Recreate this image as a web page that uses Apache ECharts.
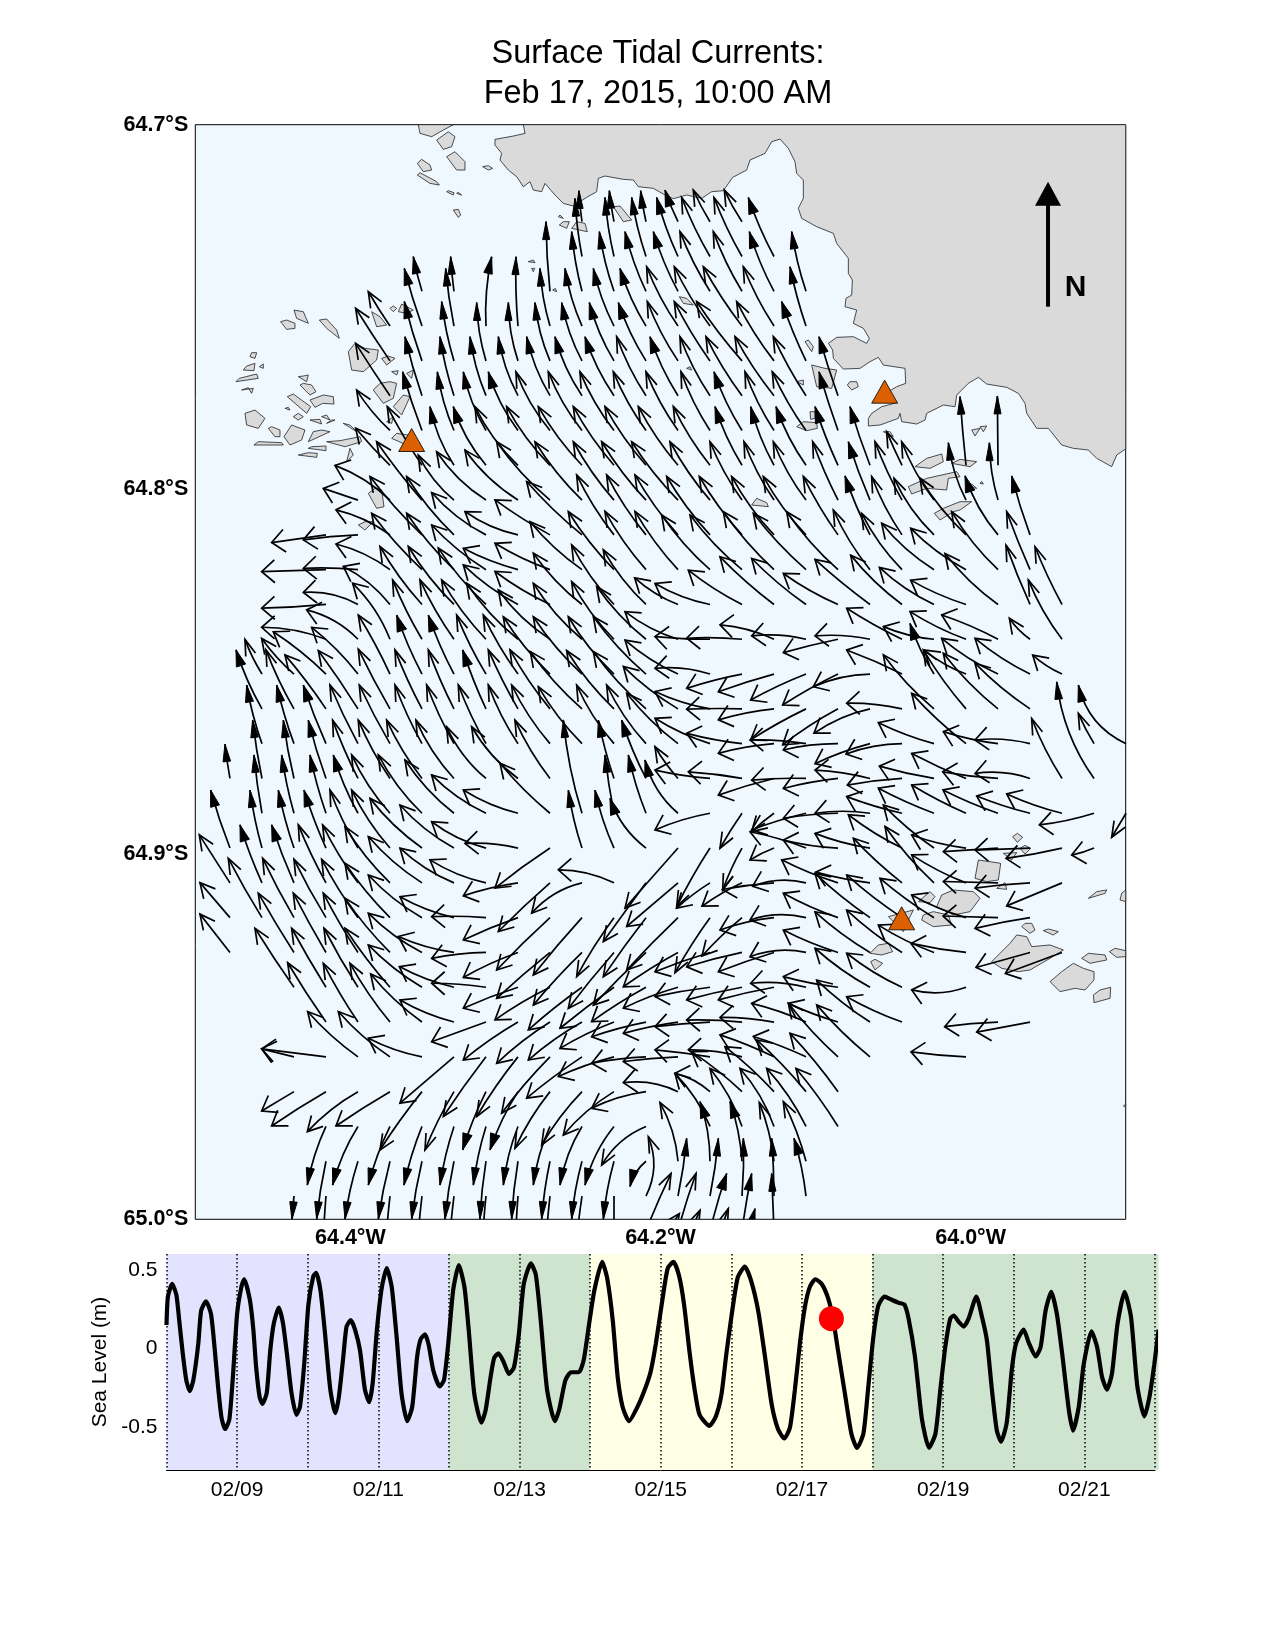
<!DOCTYPE html>
<html><head><meta charset="utf-8"><style>html,body{margin:0;padding:0;background:#fff}#c{width:1276px;height:1652px}</style>
<script src="https://cdn.jsdelivr.net/npm/echarts@6/dist/echarts.min.js"></script></head><body><div id="c"></div>
<script>
// ---- sea level: days since Feb 8 00:00, metres ----
const seaDay=[0,.02,.08,.14,.18,.23,.28,.33,.38,.45,.49,.56,.63,.68,.73,.78,.83,.89,.94,1,1.06,1.1,1.18,1.23,1.27,1.32,1.36,1.42,1.47,1.52,1.59,1.65,1.71,1.77,1.84,1.89,1.95,2.01,2.08,2.12,2.18,2.24,2.32,2.39,2.44,2.5,2.55,2.61,2.67,2.74,2.81,2.87,2.92,2.98,3.05,3.12,3.19,3.26,3.33,3.41,3.48,3.55,3.6,3.66,3.71,3.78,3.87,3.93,3.99,4.06,4.14,4.22,4.28,4.36,4.46,4.52,4.59,4.64,4.7,4.77,4.85,4.92,4.99,5.06,5.16,5.23,5.3,5.39,5.5,5.56,5.65,5.73,5.84,5.91,5.98,6.06,6.17,6.24,6.32,6.39,6.46,6.55,6.67,6.79,6.86,6.93,7.03,7.1,7.18,7.26,7.33,7.41,7.48,7.55,7.69,7.78,7.86,7.93,8,8.09,8.19,8.28,8.38,8.47,8.57,8.66,8.75,8.83,8.9,8.97,9.04,9.11,9.19,9.28,9.37,9.44,9.51,9.61,9.7,9.78,9.87,9.94,10.01,10.08,10.17,10.27,10.37,10.45,10.51,10.6,10.7,10.8,10.89,10.96,11.03,11.1,11.15,11.22,11.29,11.36,11.47,11.55,11.62,11.69,11.76,11.82,11.9,11.97,12.03,12.14,12.21,12.31,12.38,12.45,12.53,12.61,12.69,12.78,12.84,12.92,12.99,13.1,13.18,13.25,13.32,13.39,13.47,13.57,13.66,13.75,13.85,13.92,13.99,14.05];
const seaLevel=[.15,.33,.41,.34,.18,-.03,-.2,-.27,-.2,.03,.24,.3,.22,.01,-.24,-.44,-.51,-.45,-.18,.22,.39,.44,.31,.12,-.12,-.31,-.35,-.28,-.01,.16,.26,.16,-.05,-.28,-.42,-.37,-.1,.28,.46,.48,.37,.12,-.26,-.41,-.31,-.07,.14,.18,.12,-.01,-.26,-.34,-.22,.12,.39,.51,.39,.07,-.29,-.46,-.37,-.05,.06,.09,.03,-.14,-.24,-.2,.03,.37,.53,.39,.12,-.29,-.47,-.39,-.18,-.06,-.03,-.08,-.16,-.12,.09,.41,.54,.47,.18,-.26,-.46,-.39,-.2,-.15,-.15,-.07,.14,.37,.55,.45,.18,-.18,-.37,-.46,-.37,-.24,-.14,.03,.33,.51,.55,.46,.28,-.03,-.26,-.42,-.49,-.43,-.29,-.03,.2,.45,.52,.43,.24,-.03,-.35,-.51,-.57,-.5,-.26,.03,.26,.39,.44,.41,.32,.19,-.01,-.29,-.54,-.63,-.54,-.24,.07,.27,.33,.31,.29,.28,.19,-.05,-.45,-.63,-.54,-.26,.01,.19,.21,.17,.14,.19,.33,.2,.05,-.26,-.52,-.59,-.47,-.14,.03,.12,.04,-.05,.01,.24,.36,.22,-.05,-.39,-.52,-.37,-.1,.11,.01,-.18,-.26,-.16,.16,.36,.2,-.24,-.43,-.31,-.1,.12];
const nowMark=[9.417,.19];
const dayLabels=['02/09','02/11','02/13','02/15','02/17','02/19','02/21'];
const dayLabelAt=[1,3,5,7,9,11,13];
const seaTicks=[-.5,0,.5];
const bandFrom=[0,4,6,10], bandTo=[4,6,10,14.05], bandColor=['#E3E3FF','#CEE4CE','#FFFFE6','#CEE4CE'];
// ---- map axis labels ----
const lonTicks=[-64.4,-64.2,-64];
// ---- positions on the map are decametres east/south of the NW corner (64.5W, 64.7S) ----
const stationsE=[649,2068,2119], stationsS=[946,801,2381];
const northArrow=[2558,546,171];
// ---- model grid of the current field: tail = (gridE0+c*gridDE, gridS0+r*gridDS) ----
const gridE0=104, gridDE=96, gridS0=291, gridDS=104.4;
// each entry: column, east, north displacement, bend
const r00=[[11,-9,93,3],[12,-14,93,3],[13,-16,93,3],[14,-39,95,4],[15,-50,95,4],[16,-53,95,4]];
const r01=[[11,-21,174,6],[12,-27,177,7],[13,-43,177,8],[14,-64,177,8],[15,-85,177,8],[16,-84,177,8],[17,-77,177,8]];
const r02=[[6,-26,104,3],[7,-10,104,2],[10,-12,209,5],[11,-31,179,8],[12,-44,179,9],[13,-63,179,10],[14,-74,179,10],[15,-90,179,10],[16,-86,179,10],[17,-74,179,10],[18,-43,179,8]];
const r03=[[5,-65,103,2],[6,-53,173,4],[7,-25,173,5],[8,17,208,14],[9,-6,208,6],[10,-30,173,10],[11,-51,173,12],[12,-62,173,12],[13,-78,173,12],[14,-94,178,12],[15,-107,178,10],[16,-116,178,8],[17,-92,178,10],[18,-48,178,6]];
const r04=[[5,-103,158,2],[6,-53,178,5],[7,-37,178,8],[8,-28,175,12],[9,-29,175,14],[10,-45,175,14],[11,-61,175,14],[12,-74,175,14],[13,-83,175,12],[14,-92,178,12],[15,-107,178,8],[16,-136,178,8],[17,-112,178,10],[18,-73,178,6]];
const r05=[[5,-103,157,2],[6,-51,177,5],[7,-42,177,8],[8,-48,177,12],[9,-59,177,16],[10,-70,177,16],[11,-81,177,16],[12,-87,177,14],[13,-88,177,12],[14,-84,177,12],[15,-90,177,12],[16,-108,177,10],[17,-117,177,10],[18,-98,177,8],[19,-57,177,3]];
const r06=[[5,-100,121,10],[6,-58,176,5],[7,-50,176,12],[8,-68,176,16],[9,-89,176,18],[10,-102,176,18],[11,-101,176,16],[12,-102,176,14],[13,-98,176,12],[14,-96,176,12],[15,-87,176,12],[16,-84,176,12],[17,-87,176,12],[18,-101,176,10],[19,-57,176,3]];
const r07=[[5,-103,111,4],[6,-104,176,6],[7,-72,176,18],[8,-98,176,20],[9,-129,176,20],[10,-130,176,16],[11,-131,176,14],[12,-122,176,12],[13,-123,176,12],[14,-119,176,12],[15,-110,176,12],[16,-81,176,12],[17,-70,176,12],[18,-90,176,14],[19,-69,176,6],[20,-60,176,4],[21,-46,101,2],[23,-18,206,2],[24,-2,208,0]];
const r08=[[4,-104,35,0],[5,-165,104,-20],[6,-136,175,6],[7,-107,135,18],[8,-148,145,22],[9,-159,150,22],[10,-160,175,16],[11,-141,175,14],[12,-122,175,12],[13,-133,175,12],[14,-139,175,12],[15,-120,175,12],[16,-96,175,12],[17,-90,175,12],[18,-98,175,14],[19,-76,175,6],[20,-65,175,5],[21,-81,175,8],[22,-97,175,14],[23,-53,172,16],[24,-26,172,12]];
const r09=[[3,-163,-23,0],[4,-164,-15,-5],[5,-162,75,-18],[6,-156,175,10],[7,-142,175,14],[8,-163,127,20],[9,-159,70,18],[10,-165,105,6],[11,-166,160,10],[12,-112,180,12],[13,-118,180,12],[14,-129,180,12],[15,-130,175,12],[16,-128,175,12],[17,-127,175,14],[18,-128,175,14],[19,-104,175,8],[20,-75,177,8],[21,-91,175,12],[22,-120,170,20],[23,-138,170,14],[24,-99,177,20],[25,-55,177,5]];
const r10=[[3,-193,-6,0],[4,-164,4,-6],[5,-162,77,-18],[6,-151,169,10],[7,-142,169,12],[8,-163,134,14],[9,-164,64,10],[10,-165,79,10],[11,-156,144,14],[12,-137,174,12],[13,-123,175,12],[14,-129,175,12],[15,-145,164,14],[16,-156,164,14],[17,-152,174,12],[18,-158,169,12],[19,-154,174,14],[20,-110,179,14],[21,-121,169,16],[22,-157,139,18],[23,-166,124,16],[24,-139,174,16],[25,-70,174,3]];
const r11=[[3,-193,-11,4],[4,-164,36,-25],[5,-140,114,-20],[6,-126,174,12],[7,-137,174,14],[8,-143,169,14],[9,-164,119,14],[10,-165,99,10],[11,-146,154,16],[12,-127,179,16],[13,-128,164,16],[14,-130,80,14],[15,-165,63,15],[16,-161,103,10],[17,-162,143,8],[18,-163,138,10],[19,-164,93,10],[20,-165,135,6],[21,-154,148,14],[22,-164,111,16],[23,-166,73,10],[24,-159,153,16],[25,-72,178,4],[26,-81,173,6]];
const r12=[[3,-193,36,-18],[4,-154,88,-25],[5,-112,168,-22],[6,-88,178,8],[7,-102,178,10],[8,-133,178,14],[9,-154,168,18],[10,-155,148,20],[11,-146,168,18],[12,-127,173,16],[13,-148,158,16],[14,-159,83,16],[15,-165,8,4],[16,-166,3,-6],[17,-162,43,-15],[18,-163,10,-15],[19,-164,-40,-3],[20,-165,10,-12],[21,-166,93,6],[22,-152,38,12],[23,-168,83,10],[24,-169,73,-8],[25,-62,63,8],[26,-101,178,14]];
const r13=[[1,-51,104,6],[2,-97,107,8],[3,-158,127,-10],[4,-139,140,-12],[5,-95,177,-6],[6,-76,177,8],[7,-77,177,8],[8,-88,177,8],[9,-104,177,10],[10,-140,172,14],[11,-146,172,14],[12,-137,172,16],[13,-158,172,14],[14,-159,102,14],[15,-165,17,-18],[16,-166,-43,-6],[17,-167,-53,-4],[18,-166,-78,-6],[19,-166,-93,-6],[20,-170,-38,-18],[21,-166,72,-5],[22,-72,152,10],[23,-125,72,12],[24,-169,107,14],[25,-165,107,12],[26,-88,57,8]];
const r14=[[1,-78,177,10],[2,-84,177,8],[3,-123,162,-6],[4,-119,175,-4],[5,-95,179,4],[6,-81,177,6],[7,-77,177,6],[8,-70,177,6],[9,-89,177,6],[10,-120,177,10],[11,-155,172,14],[12,-142,175,14],[13,-158,172,14],[14,-164,127,12],[15,-165,52,12],[16,-166,-1,-3],[17,-167,-33,-8],[18,-166,-93,-6],[19,-166,-108,-8],[20,-168,-73,-18],[21,-166,17,-10],[22,-152,162,14],[23,-128,177,10],[24,-164,167,14],[25,-165,137,12]];
const r15=[[1,-46,176,8],[2,-52,176,6],[3,-68,176,5],[4,-84,176,5],[5,-92,176,5],[6,-81,176,8],[7,-82,176,8],[8,-83,176,8],[9,-89,176,12],[10,-115,176,14],[11,-131,171,14],[12,-112,176,16],[13,-118,176,16],[14,-154,151,14],[15,-165,76,12],[16,-166,31,6],[17,-167,-29,-8],[18,-168,11,-8],[19,-164,-19,-10],[20,-165,-60,-8],[21,-168,-31,-15],[22,-167,63,8],[23,-163,151,10],[24,-164,36,8],[25,-165,11,-15],[27,-47,91,4],[28,-143,176,55]];
const r16=[[0,-15,103,2],[1,-28,175,4],[2,-32,175,5],[3,-53,175,5],[4,-76,175,6],[5,-95,175,10],[6,-106,175,12],[7,-114,175,18],[8,-118,155,22],[9,-139,155,22],[10,-105,175,12],[12,-47,175,6],[13,-73,175,8],[14,-69,95,6],[15,-165,25,6],[16,-161,20,-5],[17,-167,-50,-5],[18,-163,-5,-5],[19,-164,-30,-6],[20,-165,25,-8],[21,-164,-20,-5],[22,-164,37,5],[23,-163,75,5],[24,-166,20,5],[25,-165,15,-20],[26,-91,180,10],[27,-112,290,40]];
const r17=[[1,-24,175,4],[2,-37,175,6],[3,-48,175,6],[4,-74,175,10],[5,-115,175,16],[6,-131,175,18],[7,-147,160,18],[8,-163,115,18],[9,-164,70,14],[10,-150,150,10],[11,-56,280,15],[12,-27,175,4],[13,-53,175,8],[14,-99,160,30],[15,-165,-50,-10],[16,-66,-105,-3],[17,-67,-55,-3],[18,-163,-50,-6],[19,-164,-15,-6],[20,-165,0,-12],[21,-166,50,6],[22,-167,75,6],[23,-163,85,6],[24,-165,70,6],[25,-160,52,6],[26,-166,58,8],[27,-164,-35,8],[28,-43,-72,0]];
const r18=[[0,-58,174,5],[1,-36,174,6],[2,-47,174,6],[3,-66,174,6],[4,-84,174,10],[5,-115,174,14],[6,-156,149,16],[7,-162,129,18],[8,-163,79,18],[9,-159,14,-12],[10,-165,-120,-5],[11,-41,174,8],[12,-57,174,10],[13,-108,149,28],[14,-159,-180,0],[15,-100,-176,-6],[16,-58,-126,-6],[17,-72,-36,-4],[18,-168,49,-8],[19,-164,24,8],[20,-165,44,10],[21,-161,100,10],[22,-152,129,10],[23,-163,39,10],[24,-164,-11,0],[25,-165,-6,0],[26,-168,-31,4],[27,-67,-21,4]];
const r19=[[0,-92,144,0],[1,-66,174,6],[2,-67,174,5],[3,-83,174,6],[4,-106,174,10],[5,-135,169,14],[6,-161,139,16],[7,-162,104,18],[8,-168,69,16],[9,-164,-39,-8],[10,-155,-146,-4],[11,-151,-91,-28],[12,-167,39,-20],[13,-128,-176,0],[14,-154,-131,0],[15,-100,-76,-6],[16,-120,-70,-6],[17,-155,-20,-5],[18,-160,-10,-25],[19,-169,69,8],[20,-163,32,6],[21,-146,134,8],[22,-147,169,12],[23,-163,84,10],[24,-164,4,0],[25,-165,-16,-4],[26,-166,-69,0]];
const r20=[[0,-90,105,0],[1,-101,178,4],[2,-94,178,4],[3,-96,175,5],[4,-109,175,8],[5,-135,163,10],[6,-161,128,16],[7,-162,63,12],[8,-163,3,-5],[9,-164,-67,-5],[10,-160,-157,-4],[11,-146,-172,-4],[12,-112,-177,-8],[13,-128,-177,-4],[14,-154,-157,-4],[15,-105,-165,-6],[16,-120,-115,-6],[17,-162,-37,-10],[18,-168,-7,-25],[19,-164,73,8],[20,-165,133,8],[21,-166,128,8],[22,-162,118,8],[23,-163,68,10],[24,-165,5,0],[25,-165,-32,-4]];
const r21=[[0,-90,115,0],[2,-107,178,3],[3,-98,178,3],[4,-104,178,6],[5,-135,163,10],[6,-161,118,16],[7,-167,48,12],[8,-163,-18,-8],[9,-164,-75,-8],[10,-160,-138,-4],[11,-146,-158,-6],[12,-137,-168,-4],[13,-158,-158,-4],[14,-164,-103,-6],[15,-165,-58,-5],[16,-166,-43,-4],[17,-167,-58,-4],[18,-168,-13,-25],[19,-164,67,8],[20,-165,122,10],[21,-166,127,10],[22,-167,82,10],[23,-165,27,5],[25,-162,-45,0],[26,-170,-63,0]];
const r22=[[2,-117,177,3],[3,-103,177,3],[4,-102,177,5],[5,-135,177,8],[6,-161,127,14],[7,-164,62,12],[8,-163,12,-6],[9,-164,-63,-5],[10,-165,-98,-8],[11,-161,-128,-6],[12,-162,-123,-4],[13,-163,-103,-6],[14,-164,-63,-8],[15,-165,-28,-4],[16,-166,-38,-4],[17,-167,-38,-4],[18,-166,12,-15],[19,-164,32,6],[20,-165,117,12],[21,-166,102,12],[23,-163,-8,25]];
const r23=[[3,-115,178,4],[4,-104,176,6],[5,-120,176,10],[6,-154,144,14],[7,-162,66,12],[8,-163,-59,0],[9,-164,-114,-8],[10,-160,-124,-10],[11,-161,-114,-10],[12,-162,-79,-8],[13,-163,-44,-6],[14,-164,-34,-6],[15,-165,-14,-3],[16,-166,6,-5],[17,-162,14,-8],[18,-163,56,-8],[19,-149,56,6],[20,-160,126,10],[21,-166,76,8],[24,-160,-14,-5],[25,-160,-30,0]];
const r24=[[2,-97,24,0],[3,-193,24,0],[4,-151,136,12],[5,-155,136,14],[6,-161,56,12],[7,-162,-139,0],[8,-128,-179,-4],[9,-124,-179,-8],[10,-145,-169,-8],[11,-166,-124,-6],[12,-167,-59,-8],[13,-163,-19,-6],[14,-164,-14,-4],[15,-165,21,-3],[16,-161,21,-12],[17,-162,66,-6],[18,-158,61,-6],[19,-149,161,10],[20,-160,156,10],[23,-165,15,4]];
const r25=[[2,-97,-58,0],[3,-163,-103,-4],[4,-152,-120,-15],[5,-162,-103,-4],[6,-126,-175,-6],[7,-87,-175,-8],[8,-70,-175,-8],[9,-84,-175,-12],[10,-105,-170,-12],[11,-121,-160,-12],[12,-152,-130,-16],[13,-163,-50,-14],[14,-164,27,-25],[15,-105,55,-15],[16,-151,120,-8],[17,-147,135,-8],[18,-148,155,-8],[19,-144,175,-8]];
const r26=[[3,-56,-176,-12],[4,-76,-176,-15],[5,-65,-176,-10],[6,-54,-176,-8],[7,-42,-176,-8],[8,-38,-176,-8],[9,-44,-176,-12],[10,-50,-176,-14],[11,-66,-176,-18],[12,-87,-176,-22],[13,-133,-116,-30],[15,-105,159,-18],[16,-96,174,-18],[17,-102,174,-20],[18,-118,174,-15],[19,-126,174,-8]];
const r27=[[3,-28,-174,-5],[4,-39,-174,-8],[5,-35,-174,-5],[6,-31,-174,-5],[7,-27,-174,-5],[8,-18,-174,-5],[9,-19,-174,-5],[10,-25,-174,-6],[11,-31,-174,-8],[12,-32,-174,-8],[13,-48,-76,-15],[14,-54,176,-20],[15,-30,179,-15],[16,-36,179,-12],[17,-44,176,-12],[18,-68,179,-10]];
const r28=[[2,-6,-70,0],[3,-10,-175,-2],[5,-15,-172,-2],[6,-16,-172,-2],[7,-17,-172,-2],[8,-13,-172,-2],[9,-9,-172,-2],[10,-15,-172,-2],[11,-21,-172,-2],[12,0,-172,0],[13,7,178,-40],[14,26,173,-5],[15,25,173,-5],[16,4,173,-5],[17,-7,173,-3],[18,-36,173,-8]];
const r29=[[13,75,172,4],[14,54,172,4],[15,50,172,4],[16,29,172,3],[17,-7,172,0]];
const r30=[[13,100,156,4],[14,66,166,4],[15,55,171,4],[16,39,171,3]];
const currentRows=[r00,r01,r02,r03,r04,r05,r06,r07,r08,r09,r10,r11,r12,r13,r14,r15,r16,r17,r18,r19,r20,r21,r22,r23,r24,r25,r26,r27,r28,r29,r30];
// ---- land ----
const mainland=[[984,0],[989,26],[954,34],[899,44],[899,61],[919,86],[914,106],[939,136],[964,156],[984,186],[1004,171],[1014,196],[1039,201],[1049,176],[1079,211],[1104,236],[1134,244],[1174,218],[1204,201],[1209,161],[1229,154],[1284,164],[1314,166],[1329,186],[1374,191],[1409,211],[1434,222],[1474,211],[1519,221],[1549,201],[1584,198],[1612,158],[1654,136],[1664,106],[1709,86],[1729,51],[1754,43],[1779,71],[1799,111],[1804,146],[1824,166],[1824,221],[1809,251],[1819,281],[1864,306],[1914,326],[1924,356],[1959,401],[1959,446],[1971,466],[1969,511],[1952,521],[1949,546],[1984,556],[1974,596],[2004,611],[2022,641],[2014,656],[1974,636],[1924,638],[1899,656],[1912,676],[1914,701],[1944,733],[1994,731],[2024,711],[2049,698],[2064,721],[2129,731],[2131,776],[2104,786],[2079,801],[2104,834],[2059,846],[2029,866],[2019,881],[2019,904],[2054,901],[2109,881],[2114,866],[2119,891],[2164,898],[2189,886],[2194,866],[2244,841],[2279,846],[2284,811],[2319,776],[2349,758],[2374,778],[2434,788],[2469,806],[2489,836],[2494,866],[2524,911],[2559,911],[2599,961],[2634,971],[2679,976],[2704,1001],[2749,1026],[2764,991],[2789,974],[2791,974],[2791,0]];
const islands=[
[[669,0],[674,26],[709,36],[744,16],[774,0]],[[724,46],[744,74],[769,66],[779,36],[759,21]],[[754,96],[784,136],[809,136],[809,111],[779,81]],[[666,116],[684,141],[709,136],[704,121],[679,104]],[[666,151],[704,176],[732,181],[724,171],[674,144]],[[862,126],[879,136],[892,131],[879,123]],[[754,201],[774,211],[776,204],[759,198]],[[784,206],[799,211],[789,203]],[[774,256],[789,278],[796,271],[789,254]],[[1089,276],[1104,281],[1094,271]],[[1092,301],[1114,311],[1122,291],[1104,291]],[[1129,311],[1176,321],[1169,296],[1144,291]],[[1254,246],[1284,291],[1309,286],[1274,244]],[[999,411],[1019,414],[1014,406]],[[1009,431],[1014,441],[1018,431]],[[1072,496],[1084,501],[1080,491]],
[[256,591],[274,614],[299,611],[299,596],[274,586]],[[296,556],[304,581],[339,596],[324,561]],[[372,586],[394,611],[432,641],[424,616],[394,583]],[[164,696],[179,701],[184,684],[169,684]],[[144,736],[176,738],[179,716],[154,724]],[[192,726],[204,731],[204,718]],[[122,771],[189,761],[184,748],[132,761]],[[139,796],[159,789],[169,806],[174,791]],[[149,866],[154,901],[189,911],[209,881],[179,856]],[[276,816],[334,866],[346,846],[294,808]],[[314,781],[344,811],[362,801],[349,781],[324,776]],[[344,826],[359,848],[382,836],[416,838],[414,816],[384,811]],[[294,876],[309,886],[324,876],[309,866]],[[269,851],[284,856],[279,848]],[[309,756],[334,771],[339,751],[324,754]],[[219,911],[239,936],[254,936],[254,916],[229,906]],[[266,936],[284,961],[319,946],[329,916],[289,901]],[[176,961],[264,961],[259,954],[189,951]],[[339,951],[404,921],[379,916],[354,921]],[[344,886],[379,898],[374,884]],[[394,896],[419,886],[409,886]],[[379,876],[404,886],[394,871]],[[309,991],[364,998],[366,986],[339,984]],[[339,971],[392,978],[392,964],[349,966]],[[394,951],[449,966],[499,951],[494,936],[434,948]],[[444,896],[484,921],[464,901]],[[454,1011],[474,991],[464,971]],
[[459,681],[469,736],[504,741],[544,706],[549,676],[509,671],[479,656]],[[584,551],[594,561],[604,551],[594,544]],[[609,561],[619,538],[654,556],[634,566]],[[529,561],[544,606],[574,601],[554,576]],[[559,701],[574,721],[599,701],[579,694]],[[589,741],[604,751],[609,738]],[[534,796],[564,836],[594,821],[604,776],[584,771],[554,776]],[[594,846],[619,871],[644,816],[624,811]],[[634,746],[654,736],[649,761]],[[574,891],[594,876],[589,896]],[[589,941],[634,961],[639,931],[604,926]],[[519,1106],[544,1151],[566,1146],[559,1096],[539,1091]],[[489,1201],[509,1216],[534,1191],[509,1191]],
[[1452,516],[1464,536],[1494,541],[1474,521]],[[1474,731],[1489,736],[1484,726]],[[1829,651],[1849,681],[1854,666],[1839,646]],[[1849,721],[1864,786],[1909,791],[1924,736],[1889,731]],[[1956,781],[1969,796],[1989,786],[1984,771],[1964,771]],[[1804,771],[1824,781],[1824,766]],[[1804,906],[1834,918],[1866,911],[1864,894],[1824,891]],[[1844,861],[1846,884],[1859,881],[1859,861]],[[1669,1141],[1719,1146],[1714,1134],[1684,1121]],[[2064,921],[2094,936],[2084,921]],[[2159,1026],[2204,1031],[2244,1011],[2239,988],[2194,1001]],[[2269,1016],[2324,1026],[2344,1011],[2294,1004]],[[2139,1086],[2149,1108],[2194,1091],[2254,1096],[2259,1061],[2294,1056],[2284,1041],[2194,1061]],[[2217,1166],[2234,1186],[2274,1161],[2294,1156],[2329,1131],[2294,1131],[2244,1151]],[[2329,916],[2339,934],[2354,911]],[[2354,906],[2364,921],[2374,904]],[[2319,1086],[2344,1091],[2329,1078]],[[2354,1076],[2364,1078],[2359,1070]],
[[2452,2136],[2466,2153],[2482,2138],[2466,2126]],[[2474,2171],[2489,2188],[2506,2171],[2489,2162]],[[2424,2186],[2449,2206],[2464,2184]],[[2339,2261],[2374,2271],[2409,2266],[2416,2216],[2349,2206]],[[2404,2291],[2434,2294],[2429,2274]],[[2169,2331],[2204,2334],[2219,2316],[2204,2301]],[[2224,2346],[2274,2371],[2324,2361],[2354,2321],[2334,2301],[2274,2296],[2239,2311]],[[2179,2386],[2214,2406],[2269,2401],[2259,2371],[2214,2361],[2184,2371]],[[2479,2406],[2504,2426],[2519,2416],[2509,2396],[2489,2396]],[[2544,2418],[2574,2431],[2589,2421],[2559,2413]],[[2389,2511],[2419,2531],[2469,2541],[2504,2536],[2564,2501],[2604,2476],[2564,2461],[2509,2466],[2494,2436],[2464,2431],[2444,2456]],[[2024,2486],[2059,2491],[2092,2481],[2079,2456],[2049,2461]],[[2026,2511],[2039,2536],[2062,2516],[2039,2504]],[[2079,2376],[2124,2421],[2144,2376],[2154,2356]],[[2679,2321],[2729,2306],[2734,2296],[2704,2301]],[[2774,2326],[2791,2331],[2791,2296],[2779,2306]],[[2659,2501],[2684,2516],[2734,2506],[2729,2491],[2679,2486]],[[2742,2481],[2764,2498],[2791,2496],[2791,2478],[2759,2471]],[[2564,2571],[2594,2601],[2639,2591],[2669,2596],[2696,2566],[2696,2541],[2664,2531],[2634,2516],[2599,2541]],[[2694,2611],[2696,2634],[2744,2621],[2746,2588],[2714,2596]],[[2784,2944],[2791,2948],[2791,2938]]
];
// ---- conversion to the axes ----
const toLon=e=>-64.5+e*0.6/2791, toLat=s=>-64.7-s*0.3/3284;
const ll=p=>[toLon(p[0]),toLat(p[1])];
const arrowData=[];
currentRows.forEach((row,r)=>row.forEach(a=>{
  const e=gridE0+a[0]*gridDE, s=gridS0+r*gridDS, te=e+a[1], ts=s-a[2];
  const len=Math.hypot(a[1],a[2])||1;
  // bend pushes the control point to the left of travel
  const nx=(-a[2])/len, ny=(-a[1])/len;
  const ce=(e+te)/2+a[3]*nx, cs=(s+ts)/2+a[3]*ny;
  arrowData.push([toLon(e),toLat(s),toLon(te),toLat(ts),toLon(ce),toLat(cs)]);
}));
const font='"Liberation Sans",Arial,sans-serif';
const chart=echarts.init(document.getElementById('c'),null,{renderer:'canvas'});
chart.setOption({
  animation:false,backgroundColor:'#fff',
  title:{text:'Surface Tidal Currents:\nFeb 17, 2015, 10:00 AM',left:653,top:29,textAlign:'center',
    textStyle:{fontFamily:font,fontSize:32.5,fontWeight:'normal',color:'#000',lineHeight:40}},
  grid:[
    {left:195.3,top:124.7,width:930.4,height:1094.6,show:true,backgroundColor:'#EFF7FF',borderColor:'#000',borderWidth:1,containLabel:false},
    {left:166.5,top:1254,width:988.5,height:216,show:false,containLabel:false}
  ],
  xAxis:[
    {gridIndex:0,type:'value',min:-64.5,max:-63.9,splitLine:{show:false},axisTick:{show:false},axisLine:{show:false},
     axisLabel:{customValues:lonTicks,margin:8,fontFamily:font,fontSize:21.5,fontWeight:'bold',color:'#000',formatter:v=>Math.abs(v).toFixed(1)+'°W'}},
    {gridIndex:1,type:'value',min:0,max:14,interval:1,z:1,axisTick:{show:false},
     axisLine:{show:true,onZero:false,lineStyle:{color:'#000',width:1}},
     splitLine:{show:true,lineStyle:{color:'#000',width:1.5,type:[1.5,2.5]}},
     axisLabel:{margin:10,fontFamily:font,fontSize:21,color:'#000',formatter:v=>{const i=dayLabelAt.indexOf(v);return i<0?'':dayLabels[i];}}}
  ],
  yAxis:[
    {gridIndex:0,type:'value',min:-65,max:-64.7,interval:0.1,splitLine:{show:false},axisTick:{show:false},axisLine:{show:false},
     axisLabel:{margin:7,padding:[2,0,0,0],fontFamily:font,fontSize:21.5,fontWeight:'bold',color:'#000',formatter:v=>Math.abs(v).toFixed(1)+'°S'}},
    {gridIndex:1,type:'value',min:-.77,max:.6,splitLine:{show:false},axisTick:{show:false},axisLine:{show:false},
     name:'Sea Level (m)',nameLocation:'middle',nameGap:55,nameRotate:90,nameTextStyle:{fontFamily:font,fontSize:21,color:'#000'},
     axisLabel:{customValues:seaTicks,margin:9,padding:[4,0,0,0],fontFamily:font,fontSize:21,color:'#000',formatter:v=>String(v)}}
  ],
  series:[
    {type:'custom',name:'land',xAxisIndex:0,yAxisIndex:0,z:2,clip:true,silent:true,coordinateSystem:'cartesian2d',
     data:[mainland].concat(islands).map((p,i)=>[i,...ll(p[0])]),encode:{x:1,y:2},
     renderItem:(params,api)=>{const i=api.value(0);const poly=i===0?mainland:islands[i-1];
       return {type:'polygon',shape:{points:poly.map(p=>api.coord(ll(p)))},style:{fill:'#DADADA',stroke:'#222',lineWidth:.8}};}},
    {type:'custom',name:'currents',xAxisIndex:0,yAxisIndex:0,z:3,clip:true,silent:true,progressive:0,
     data:arrowData,encode:{x:0,y:1},
     renderItem:(params,api)=>{
       const a=api.coord([api.value(0),api.value(1)]),b=api.coord([api.value(2),api.value(3)]),c=api.coord([api.value(4),api.value(5)]);
       let tx=b[0]-c[0],ty=b[1]-c[1];const n=Math.hypot(tx,ty)||1;tx/=n;ty/=n;
       // the reference's heads are slim for north-south arrows and wide for east-west ones
       const f=Math.abs(tx), back=18-5*f, lat=3.5+8*Math.pow(f,1.5);
       const bx=b[0]-tx*back,by=b[1]-ty*back;
       const l=[bx-ty*lat,by+tx*lat],r=[bx+ty*lat,by-tx*lat];
       const head=f<.33
         ?{type:'polygon',shape:{points:[l,b,r]},style:{fill:'#000',stroke:'#000',lineWidth:1}}
         :{type:'polyline',shape:{points:[l,b,r]},style:{fill:null,stroke:'#000',lineWidth:1.7}};
       return {type:'group',children:[
         {type:'bezierCurve',shape:{x1:a[0],y1:a[1],x2:b[0],y2:b[1],cpx1:c[0],cpy1:c[1]},style:{fill:null,stroke:'#000',lineWidth:1.7}},
         head
       ]};}},
    {type:'scatter',name:'stations',xAxisIndex:0,yAxisIndex:0,z:4,silent:true,symbol:'triangle',symbolSize:[26,23],
     data:stationsE.map((e,i)=>[toLon(e),toLat(stationsS[i])]),
     itemStyle:{color:'#DC5F00',opacity:1,borderColor:'#000',borderWidth:.8}},
    {type:'custom',name:'north',xAxisIndex:0,yAxisIndex:0,z:4,silent:true,
     data:[[toLon(northArrow[0]),toLat(northArrow[1]),toLat(northArrow[2])]],encode:{x:0,y:1},
     renderItem:(params,api)=>{
       const t=api.coord([api.value(0),api.value(1)]),h=api.coord([api.value(0),api.value(2)]);
       return {type:'group',children:[
         {type:'line',shape:{x1:t[0],y1:t[1],x2:t[0],y2:h[1]+20},style:{stroke:'#000',lineWidth:4}},
         {type:'polygon',shape:{points:[[h[0],h[1]],[h[0]-13,h[1]+24],[h[0]+13,h[1]+24]]},style:{fill:'#000'}},
         {type:'text',style:{text:'N',x:t[0]+27.5,y:t[1]-19,align:'center',verticalAlign:'middle',font:'bold 30px '+font,fill:'#000'}}
       ]};}},
    {type:'custom',name:'bands',xAxisIndex:1,yAxisIndex:1,z:0,silent:true,
     data:bandFrom.map((f,i)=>[f,bandTo[i],i]),encode:{x:0},
     renderItem:(params,api)=>{
       const a=api.coord([api.value(0),.6]),b=api.coord([api.value(1),-.77]);
       return {type:'rect',shape:{x:a[0],y:a[1],width:b[0]-a[0],height:b[1]-a[1]},style:{fill:bandColor[api.value(2)]}};}},
    {type:'line',name:'sea',xAxisIndex:1,yAxisIndex:1,z:3,silent:true,showSymbol:false,smooth:.2,
     data:seaDay.map((d,i)=>[d,seaLevel[i]]),lineStyle:{color:'#000',width:4.2}},
    {type:'scatter',name:'now',xAxisIndex:1,yAxisIndex:1,z:4,silent:true,symbolSize:25,data:[nowMark],itemStyle:{color:'#FF0000',opacity:1}}
  ]
});
</script></body></html>
